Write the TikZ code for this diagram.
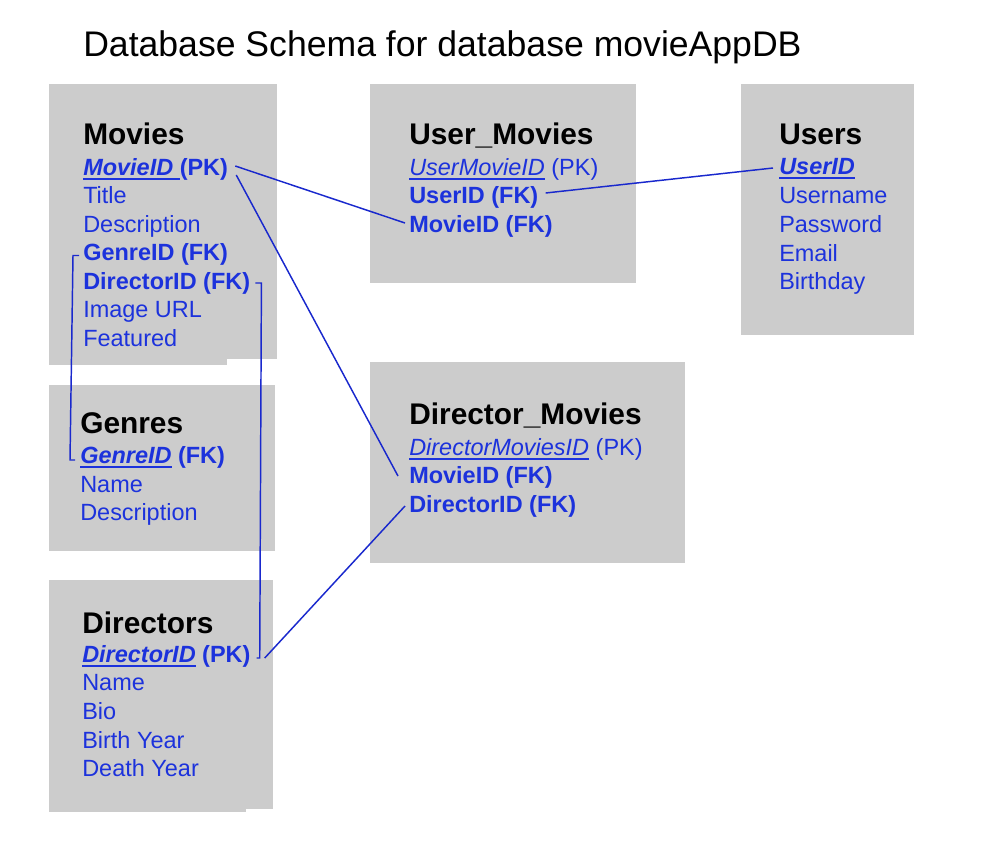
\documentclass[tikz,border=0pt]{standalone}
\usepackage{fontspec}
\setmainfont{Liberation Sans}
\definecolor{tablegray}{RGB}{204,204,204}
\definecolor{fieldblue}{RGB}{28,50,220}
\definecolor{linkblue}{RGB}{25,40,205}
\newsavebox{\keybox}
\newcommand{\keyfield}[1]{\sbox{\keybox}{#1}\rlap{\color{fieldblue}\rule[-3.8pt]{\wd\keybox}{1.5pt}}\usebox{\keybox}}
\tikzset{
	table/.style={fill=tablegray},
	title/.style={anchor=base west,inner sep=0pt,font=\mytitlefont},
	head/.style={anchor=base west,inner sep=0pt,font=\myheadfont},
	field/.style={anchor=base west,inner sep=0pt,text=fieldblue,font=\myfieldfont},
	link/.style={draw=linkblue,line width=1.1pt}
}
\begin{document}
\begin{tikzpicture}[x=0.75pt,y=-0.75pt]
			\newcommand{\mytitlefont}{\fontsize{26.7}{30}\selectfont}
			\newcommand{\myheadfont}{\fontsize{22.4}{26}\selectfont\bfseries}
			\newcommand{\myfieldfont}{\fontsize{17.6}{20}\selectfont}
			\useasboundingbox (0,0) rectangle (990,858);
			%Title
			\node [title] (title) at (83,56) {Database Schema for database movieAppDB};
			%Table Movies
			\fill [table] (49,84) rectangle (277,359);
			\fill [table] (49,359) rectangle (227,365);
			\coordinate (movies) at (83,144);
			\node [head] (mov-head) at (movies) {Movies};
			\node [field] (mov-id) at (83,175) {\bfseries\keyfield{\itshape MovieID }(PK)};
			\node [field] (mov-title) at (83,203.5) {Title};
			\node [field] (mov-desc) at (83,232) {Description};
			\node [field] (mov-gid) at (83,260.5) {\bfseries GenreID (FK)};
			\node [field] (mov-did) at (83,289) {\bfseries DirectorID (FK)};
			\node [field] (mov-img) at (83,317.5) {Image URL};
			\node [field] (mov-feat) at (83,346) {Featured};
			%Table Genres
			\fill [table] (49,385) rectangle (275,551);
			\coordinate (genres) at (80,433);
			\node [head] (ge-head) at (genres) {Genres};
			\node [field] (ge-id) at (80,463) {\bfseries\keyfield{\itshape GenreID} (FK)};
			\node [field] (ge-name) at (80,492) {Name};
			\node [field] (ge-desc) at (80,520) {Description};
			%Table Directors
			\fill [table] (49,580) rectangle (273,809);
			\fill [table] (49,809) rectangle (246,812);
			\coordinate (directors) at (82,633);
			\node [head] (di-head) at (directors) {Directors};
			\node [field] (di-id) at (82,662) {\bfseries\keyfield{\itshape DirectorID} (PK)};
			\node [field] (di-name) at (82,690) {Name};
			\node [field] (di-bio) at (82,719) {Bio};
			\node [field] (di-birth) at (82,748) {Birth Year};
			\node [field] (di-death) at (82,776) {Death Year};
			%Table User_Movies
			\fill [table] (370,84) rectangle (636,283);
			\coordinate (usermovies) at (409,144);
			\node [head] (um-head) at (usermovies) {User\_Movies};
			\node [field] (um-id) at (409,175) {\keyfield{\itshape UserMovieID} (PK)};
			\node [field] (um-uid) at (409,203) {\bfseries UserID (FK)};
			\node [field] (um-mid) at (409,232) {\bfseries MovieID (FK)};
			%Table Users
			\fill [table] (741,84) rectangle (914,335);
			\coordinate (users) at (779,144);
			\node [head] (us-head) at (users) {Users};
			\node [field] (us-id) at (779,174) {\bfseries\keyfield{\itshape UserID}};
			\node [field] (us-name) at (779,203) {Username};
			\node [field] (us-pass) at (779,232) {Password};
			\node [field] (us-mail) at (779,261) {Email};
			\node [field] (us-birth) at (779,289) {Birthday};
			%Table Director_Movies
			\fill [table] (370,362) rectangle (685,563);
			\coordinate (directormovies) at (409,424);
			\node [head] (dm-head) at (directormovies) {Director\_Movies};
			\node [field] (dm-id) at (409,455) {\keyfield{\itshape DirectorMoviesID} (PK)};
			\node [field] (dm-mid) at (409,483) {\bfseries MovieID (FK)};
			\node [field] (dm-did) at (409,512) {\bfseries DirectorID (FK)};
			%Links between the keys
			\draw [link] ([shift={(7,-9)}]mov-id.base east) -- ([shift={(-4,-9)}]um-mid.base west);
			\draw [link] ([shift={(8,0)}]mov-id.base east) -- ([shift={(-11,-7)}]dm-mid.base west);
			\draw [link] ([shift={(7,-10)}]um-uid.base east) -- ([shift={(-6,-6)}]us-id.base west);
			\draw [link] ([shift={(-4,-5)}]mov-gid.base west) -- ++(-6,0) -- ([shift={(-10,-3)}]ge-id.base west) -- ++(5,0);
			\draw [link] ([shift={(5,-6)}]mov-did.base east) -- ++(6,0) -- ([shift={(9,-4)}]di-id.base east) -- ++(-3,0);
			\draw [link] ([shift={(14,-4)}]di-id.base east) -- ([shift={(-4,-6)}]dm-did.base west);
\end{tikzpicture}
\end{document}
